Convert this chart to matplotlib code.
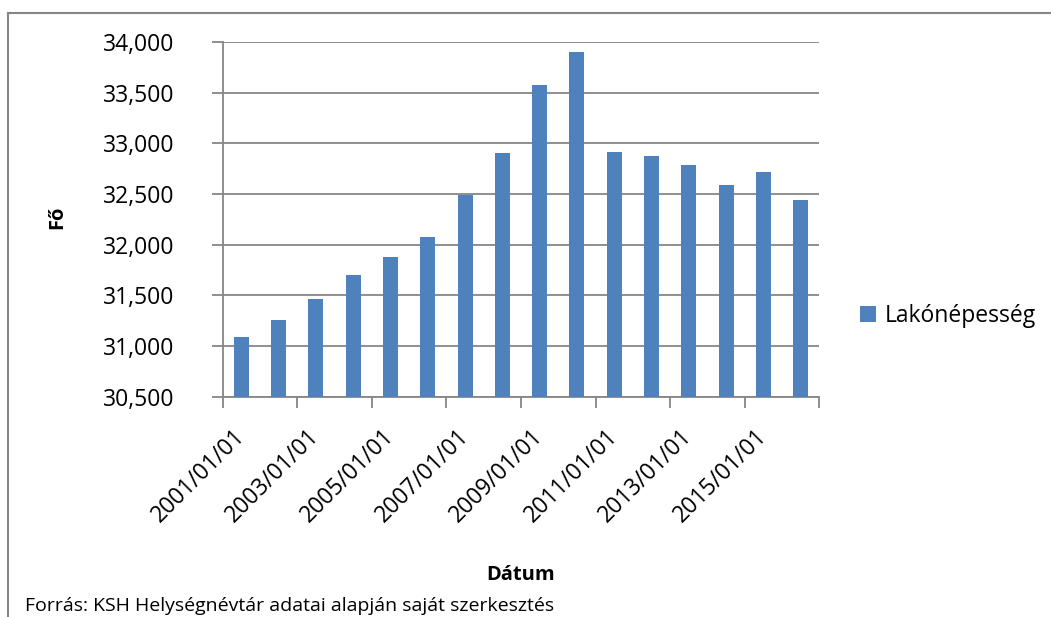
import matplotlib
matplotlib.use("Agg")
import matplotlib.pyplot as plt
from matplotlib.lines import Line2D
import numpy as np

# Data
years = list(range(2001, 2017))
categories = [f"{y}/01/01" for y in years]
values = [31089, 31257, 31464, 31701, 31879, 32076, 32493, 32905,
          33576, 33901, 32915, 32875, 32786, 32589, 32717, 32441]
series_name = "Lakónépesség"
y_ticks = [30500, 31000, 31500, 32000, 32500, 33000, 33500, 34000]
x_title = "Dátum"
y_title = "Fő"
source_note = "Forrás: KSH Helységnévtár adatai alapján saját szerkesztés"

FONT = "Open Sans"
plt.rcParams['font.family'] = [FONT, 'DejaVu Sans']
GRID = "#868686"
BAR = "#4F81BD"

W, H = 1051, 617
fig = plt.figure(figsize=(W / 100, H / 100), dpi=100)
fig.patch.set_facecolor("white")

def fx(px):
    return px / W

def fy(py):
    return 1 - py / H

ax = fig.add_axes([fx(222.7), fy(396.7), fx(819.3) - fx(222.7), fy(42) - fy(396.7)])

x = np.arange(len(categories))
ax.bar(x, values, width=0.4, color=BAR, zorder=3, label=series_name)

ax.set_xlim(-0.5, len(categories) - 0.5)
ax.set_ylim(y_ticks[0], y_ticks[-1])
ax.set_yticks(y_ticks)
ax.set_yticklabels([f"{v:,}" for v in y_ticks], fontsize=16.5)
ax.yaxis.grid(True, color=GRID, linewidth=1.3, zorder=0)
ax.tick_params(axis='y', direction='out', length=8, width=1.3, color=GRID, pad=27)

# category labels every 2 categories
ax.set_xticks(x[::2])
ax.set_xticklabels([categories[i] for i in x[::2]], rotation=45, ha='right',
                   va='center', rotation_mode='anchor', fontsize=16.5)
ax.tick_params(axis='x', which='major', length=0, pad=26)
ax.set_xticks(np.arange(-0.5, len(categories), 2), minor=True)
ax.tick_params(axis='x', which='minor', direction='out', length=8, width=1.3, color=GRID)

for s in ['top', 'right']:
    ax.spines[s].set_visible(False)
for s in ['left', 'bottom']:
    ax.spines[s].set_color(GRID)
    ax.spines[s].set_linewidth(1.3)

fig.text(fx(57), fy(217), y_title, rotation=90, ha='center', va='center',
         fontsize=14.5, fontweight='bold')

fig.text(fx(521), fy(575), x_title, ha='center', va='center', fontsize=14.5, fontweight='bold')

# legend
leg = fig.legend(loc='center left', bbox_to_anchor=(fx(860), fy(316)), frameon=False,
                 fontsize=16.5, handlelength=0.7, handleheight=0.7, handletextpad=0.4,
                 borderaxespad=0, borderpad=0)

# source note
fig.text(fx(25), fy(611), source_note, ha='left', va='baseline', fontsize=14)

# chart area border (left and top visible)
fig.add_artist(Line2D([fx(7.5), fx(7.5)], [fy(12.5), 0], color=GRID, lw=1.5,
                      transform=fig.transFigure))
fig.add_artist(Line2D([fx(7.5), 1], [fy(12.5), fy(12.5)], color=GRID, lw=1.5,
                      transform=fig.transFigure))

fig.savefig("out.png", dpi=100, facecolor="white")
